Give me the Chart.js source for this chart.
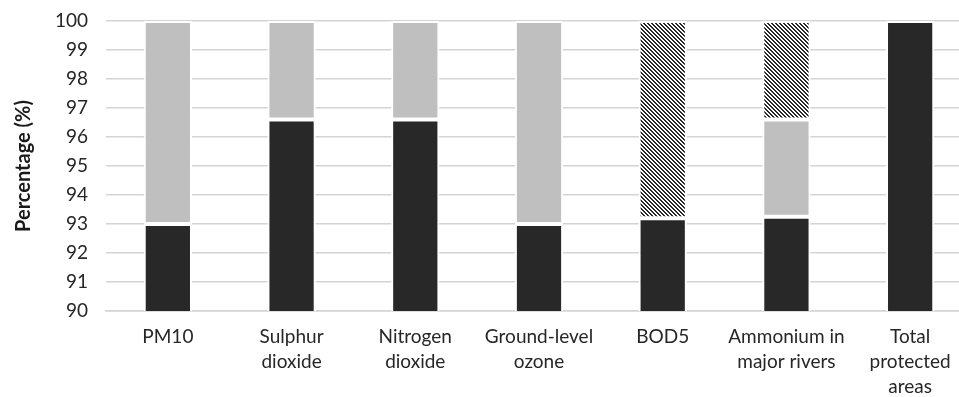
<!DOCTYPE html>
<html>
<head>
<meta charset="utf-8">
<script src="https://cdn.jsdelivr.net/npm/chart.js@4"></script>
<style>
  html, body { margin: 0; padding: 0; background: #fff; overflow: hidden; }
  #wrap { width: 959px; height: 397px; overflow: hidden; position: relative; }
  canvas { display: block; }
</style>
</head>
<body>
<div id="wrap"><canvas id="chart" width="972" height="397"></canvas></div>
<script>
// Categories and stacked segment values (percent)
const categories = [
  "PM10",
  ["Sulphur", "dioxide"],
  ["Nitrogen", "dioxide"],
  ["Ground-level", "ozone"],
  "BOD5",
  ["Ammonium in", "major rivers"],
  ["Total", "protected", "areas"]
];
const darkValues  = [93.0, 96.6, 96.6, 93.0, 93.2, 93.25, 100];
const greyValues  = [7.0, 3.4, 3.4, 7.0, null, 3.35, null];
const hatchValues = [null, null, null, null, 6.8, 3.4, null];
const yTicks = [90, 91, 92, 93, 94, 95, 96, 97, 98, 99, 100];

const DARK = "#282828";
const GREY = "#bfbfbf";
const FONT = "Lato, 'Open Sans', sans-serif";

// Diagonal stripe fill (top-left to bottom-right)
function stripePattern() {
  const c = document.createElement("canvas");
  c.width = 4; c.height = 4;
  const g = c.getContext("2d");
  g.fillStyle = "#ffffff";
  g.fillRect(0, 0, 4, 4);
  g.fillStyle = DARK;
  for (let y = 0; y < 4; y++) {
    for (let x = 0; x < 4; x++) {
      const d = ((x - y) % 4 + 4) % 4;
      if (d === 0 || d === 1) g.fillRect(x, y, 1, 1);
    }
  }
  return g.createPattern(c, "repeat");
}

const barStyle = {
  borderColor: "#ffffff",
  borderWidth: 2,
  borderSkipped: false,
  barPercentage: 0.39,
  categoryPercentage: 1.0
};

new Chart(document.getElementById("chart"), {
  type: "bar",
  data: {
    labels: categories,
    datasets: [
      Object.assign({ label: "Series 1", data: darkValues, backgroundColor: DARK }, barStyle),
      Object.assign({ label: "Series 2", data: greyValues, backgroundColor: GREY }, barStyle),
      Object.assign({ label: "Series 3", data: hatchValues, backgroundColor: stripePattern() }, barStyle)
    ]
  },
  options: {
    responsive: false,
    animation: false,
    events: [],
    layout: { padding: { top: 21, right: 0, bottom: 0, left: 0 } },
    plugins: { legend: { display: false }, tooltip: { enabled: false } },
    scales: {
      x: {
        stacked: true,
        grid: { display: false, drawTicks: false },
        border: { display: true, color: "#d4d4d4", width: 1.5 },
        ticks: {
          color: "#262626",
          font: { family: FONT, size: 19, lineHeight: 1.3 },
          padding: 14,
          maxRotation: 0,
          autoSkip: false
        },
        afterFit: (s) => { s.height = 86; s.paddingLeft = 0; s.paddingRight = 0; }
      },
      y: {
        stacked: true,
        min: 90,
        max: 100,
        afterBuildTicks: (s) => { s.ticks = yTicks.map(v => ({ value: v })); },
        grid: { color: "#d4d4d4", lineWidth: 1.5, drawTicks: false },
        border: { display: false },
        ticks: {
          color: "#262626",
          font: { family: FONT, size: 19 },
          padding: 18
        },
        title: {
          display: true,
          text: "Percentage (%)",
          color: "#1a1a1a",
          font: { family: FONT, size: 20, weight: "bold" },
          padding: { top: 12, bottom: 0 }
        },
        afterFit: (s) => { s.width = 106; s.paddingTop = 0; s.paddingBottom = 0; }
      }
    }
  }
});
</script>
</body>
</html>
